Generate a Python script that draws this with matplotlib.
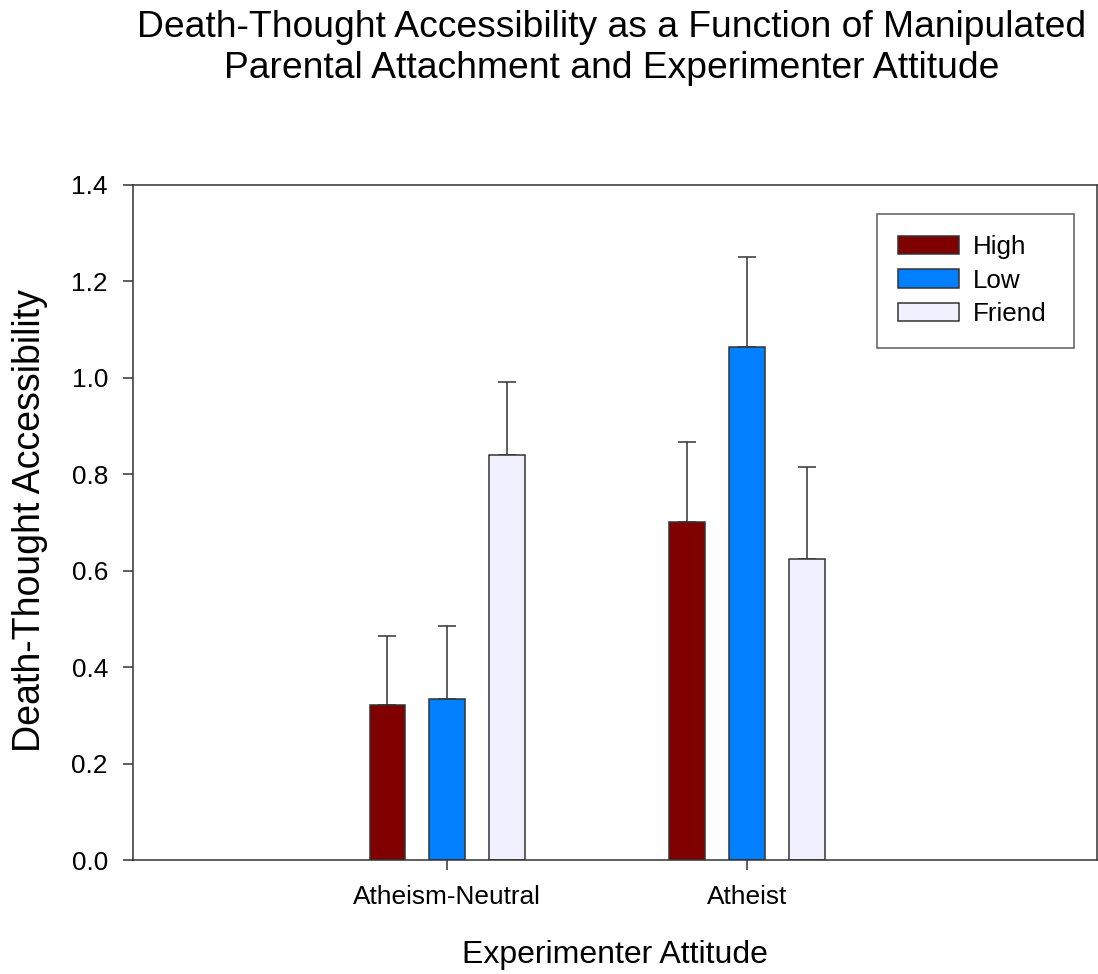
import matplotlib
matplotlib.use("Agg")
import matplotlib.pyplot as plt
import numpy as np

plt.rcParams['font.family'] = ['Liberation Sans', 'DejaVu Sans']

categories = ["Atheism-Neutral", "Atheist"]
series_names = ["High", "Low", "Friend"]
high_vals = [0.322, 0.700]
high_err = [0.142, 0.167]
low_vals = [0.333, 1.064]
low_err = [0.153, 0.187]
friend_vals = [0.839, 0.625]
friend_err = [0.153, 0.189]
yticks = [0.0, 0.2, 0.4, 0.6, 0.8, 1.0, 1.2, 1.4]

colors = ["#800000", "#0080FF", "#F0F0FF"]
edge = "#333333"

W, H = 1098, 974
fig = plt.figure(figsize=(W / 100, H / 100), dpi=100)
ax = fig.add_axes([132.7 / W, 1 - 860 / H, (1096.7 - 132.7) / W, (860 - 184.7) / H])

x = np.arange(len(categories))
width = 0.1167
offsets = [-0.2, 0.0, 0.2]
vals = [high_vals, low_vals, friend_vals]
errs = [high_err, low_err, friend_err]
for i in range(3):
    ax.bar(x + offsets[i], vals[i], width, color=colors[i], edgecolor=edge,
           linewidth=1.1, label=series_names[i], zorder=2)
    ax.errorbar(x + offsets[i], vals[i], yerr=[np.zeros(len(errs[i])), errs[i]],
                fmt='none', ecolor=edge, elinewidth=1.1, capsize=6.5, capthick=1.1, zorder=1)

ax.set_xlim(-1.0477, 2.1657)
ax.set_ylim(0, 1.4)
ax.set_yticks(yticks)
ax.set_yticklabels([f"{v:.1f}" for v in yticks])
ax.set_xticks(x)
ax.set_xticklabels(categories)
for s in ax.spines.values():
    s.set_color(edge)
    s.set_linewidth(1.1)
ax.tick_params(axis='both', direction='out', length=7.2, width=1.1, color=edge,
               labelsize=18.9, labelcolor='black')
ax.tick_params(axis='y', pad=10.6)
ax.tick_params(axis='x', pad=11)

lx0 = (876.7 - 132.7) / 964
lw = (1074 - 876.7) / 964
ltop = (860 - 213.7) / 675.3
leg = ax.legend(loc='upper left', bbox_to_anchor=(lx0, ltop - 0.2, lw, 0.2),
                mode='expand', borderaxespad=0,
                fontsize=18.7, frameon=True, fancybox=False, shadow=False,
                handlelength=2.35, handleheight=0.73, handletextpad=0.55,
                labelspacing=0.37, borderpad=0.82)
leg.get_frame().set_edgecolor(edge)
leg.get_frame().set_linewidth(1.1)

fig.text(612 / W, 1 - 36.7 / H, "Death-Thought Accessibility as a Function of Manipulated",
         ha='center', va='baseline', fontsize=26.8)
fig.text(612 / W, 1 - 78 / H, "Parental Attachment and Experimenter Attitude",
         ha='center', va='baseline', fontsize=26.8)
fig.text(614.5 / W, 1 - 962.7 / H, "Experimenter Attitude", ha='center', va='baseline',
         fontsize=23)
fig.text(40 / W, 1 - 520.5 / H, "Death-Thought Accessibility", ha='center', va='baseline',
         rotation=90, rotation_mode='anchor', fontsize=27)

fig.savefig("out.png", dpi=100)
